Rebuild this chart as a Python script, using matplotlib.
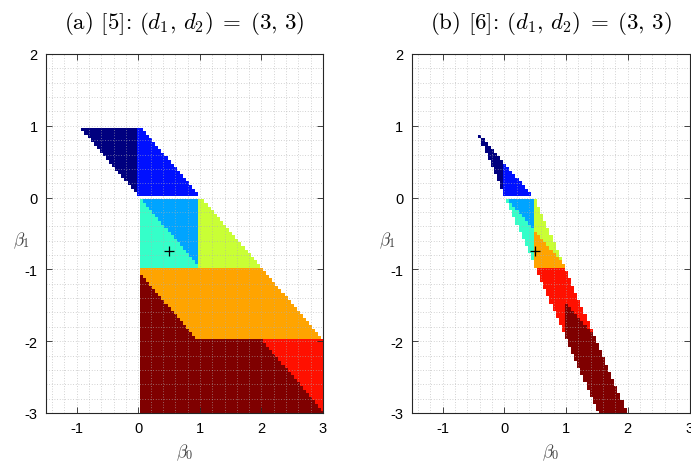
import numpy as np
import matplotlib
matplotlib.use("Agg")
import matplotlib.pyplot as plt
from matplotlib.path import Path
from matplotlib.ticker import MultipleLocator
from matplotlib.colors import LinearSegmentedColormap

plt.rcParams['mathtext.fontset'] = 'cm'
plt.rcParams['axes.unicode_minus'] = False
plt.rcParams['font.family'] = ['Liberation Sans', 'DejaVu Sans']

# ---------------- data ----------------
titles = [r"(a) [5]: $(d_1,\,d_2)\;=\;(3,\,3)$", r"(b) [6]: $(d_1,\,d_2)\;=\;(3,\,3)$"]
xticks = [-1, 0, 1, 2, 3]
yticks = [-3, -2, -1, 0, 1, 2]
marker_point = (0.5, -0.75)
region_labels = [1, 2, 3, 4, 5, 6, 7, 8]   # coloured on the jet scale

# region outlines (beta0, beta1)
a_navy = [(-0.95, 0.975), (-0.025, 0.975), (-0.025, 0.05)]
a_blue = [(-0.025, 0.025), (1.0, 0.025), (0.05, 0.975), (-0.025, 0.975)]
a_lightblue = [(0.05, -0.025), (0.975, -0.025), (0.975, -0.95)]
a_aqua = [(0.025, -0.025), (0.05, -0.025), (1.0, -0.975), (0.025, -0.975)]
a_yellow = [(0.975, -0.025), (1.05, -0.025), (2.0, -0.975), (0.975, -0.975)]
a_orange = [(0.025, -0.975), (2.0, -0.975), (3.0, -1.975), (0.95, -1.975), (0.025, -1.05)]
a_red = [(2.0, -1.975), (3.025, -1.975), (3.025, -3.0)]
a_darkred = [(0.025, -1.05), (0.95, -1.975), (2.0, -1.975), (3.025, -3.0),
             (3.025, -3.1), (0.025, -3.1)]

# region outlines
b_navy = [(-0.45, 0.925), (-0.025, 0.5), (-0.025, 0.075)]
b_blue = [(-0.025, 0.025), (0.45, 0.025), (-0.025, 0.5)]
b_lightblue = [(0.05, -0.025), (0.475, -0.025), (0.475, -0.45)]
b_aqua = [(0.025, -0.025), (0.05, -0.025), (0.475, -0.45), (0.475, -0.925)]
b_yellow = [(0.475, -0.025), (0.5, -0.025), (0.95, -0.925), (0.475, -0.45)]
b_orange = [(0.475, -0.45), (1.0, -0.975), (0.475, -0.975)]
b_red = [(0.5, -0.975), (0.975, -0.975), (1.45, -1.925), (0.975, -1.45), (0.975, -1.925)]
b_darkred = [(0.975, -1.45), (1.45, -1.925), (2.0375, -3.1), (1.5625, -3.1), (0.975, -1.925)]

panel_a = [a_navy, a_blue, a_lightblue, a_aqua, a_yellow, a_orange, a_red, a_darkred]
panel_b = [b_navy, b_blue, b_lightblue, b_aqua, b_yellow, b_orange, b_red, b_darkred]

# sampling grid of the parameter plane
step = 0.05
xs = np.round(np.arange(-1.5, 3.0 + step / 2, step), 4)
ys = np.round(np.arange(-3.0, 2.0 + step / 2, step), 4)

# MATLAB-style jet colour map
matlab_jet = LinearSegmentedColormap('matlab_jet', {
    'red':   [(0, 0, 0), (3 / 8, 0, 0), (5 / 8, 1, 1), (7 / 8, 1, 1), (1, 0.5, 0.5)],
    'green': [(0, 0, 0), (1 / 8, 0, 0), (3 / 8, 1, 1), (5 / 8, 1, 1), (7 / 8, 0, 0), (1, 0, 0)],
    'blue':  [(0, 0.5, 0.5), (1 / 8, 1, 1), (3 / 8, 1, 1), (5 / 8, 0, 0), (1, 0, 0)],
}, N=256)


def rasterize(polys):
    X, Y = np.meshgrid(xs, ys)
    pts = np.column_stack([X.ravel(), Y.ravel()])
    Z = np.full(X.shape, np.nan)
    for lab, poly in zip(region_labels, polys):
        m = Path(poly).contains_points(pts).reshape(X.shape)
        Z[m & np.isnan(Z)] = lab
    return np.ma.masked_invalid(Z)


fig = plt.figure(figsize=(6.91, 4.64), dpi=100)
ax1 = fig.add_axes([46 / 691, 50 / 464, 277 / 691, 359 / 464])
ax2 = fig.add_axes([411.7 / 691, 50 / 464, 277.8 / 691, 359 / 464])

for ax, polys, title in [(ax1, panel_a, titles[0]), (ax2, panel_b, titles[1])]:
    Z = rasterize(polys)
    ax.imshow(Z, cmap=matlab_jet, vmin=1, vmax=8, origin='lower', aspect='auto',
              interpolation='nearest',
              extent=[xs[0] - step / 2, xs[-1] + step / 2, ys[0] - step / 2, ys[-1] + step / 2],
              zorder=1)
    ax.plot([marker_point[0]], [marker_point[1]], marker='+', color='black',
            markersize=7, mew=0.9, zorder=4)
    ax.set_xlim(-1.5, 3)
    ax.set_ylim(-3, 2)
    ax.set_xticks(xticks)
    ax.set_yticks(yticks)
    ax.xaxis.set_minor_locator(MultipleLocator(0.2))
    ax.yaxis.set_minor_locator(MultipleLocator(0.2))
    ax.grid(which='both', color='#b0b0b0', alpha=0.75, linestyle=(0, (1, 2.2)),
            linewidth=0.6, zorder=3)
    ax.set_axisbelow(False)
    ax.tick_params(which='major', direction='in', top=True, right=True, length=4,
                   width=0.6, labelsize=10.5, pad=6, colors='#262626', labelcolor='black')
    ax.tick_params(which='minor', length=0)
    for s in ax.spines.values():
        s.set_linewidth(0.8)
        s.set_color('#262626')
        s.set_zorder(5)
    ax.set_title(title, fontsize=16.5, family='cmr10', pad=19)
    ax.set_xlabel(r'$\beta_0$', fontsize=12.5, color='#404040')
    ax.set_ylabel(r'$\beta_1$', fontsize=12.5, rotation=0, color='#404040')
    ax.yaxis.set_label_coords(-0.087, 0.455)
    ax.xaxis.set_label_coords(0.5, -0.08)

fig.savefig('out.png', dpi=100)
